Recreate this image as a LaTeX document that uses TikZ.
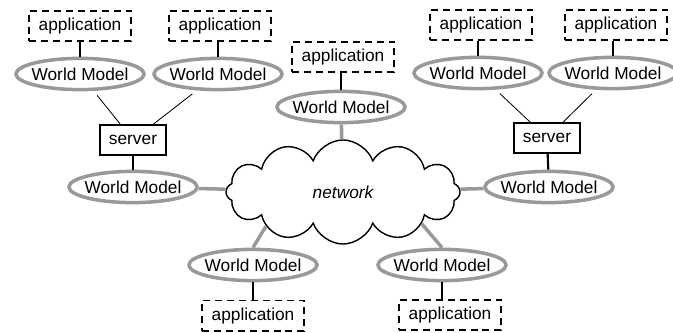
\documentclass[tikz,border=0pt]{standalone}
\usepackage{fontspec}
\setmainfont{Liberation Sans}
\usetikzlibrary{shapes,arrows,positioning,fit,backgrounds}
\colorlet{wmgray}{black!40}

\begin{document}
\begin{tikzpicture}[
    x=0.025cm, y=-0.025cm,
    node distance=1.2cm,
    font=\fontsize{12.3}{14}\selectfont,
    model node/.style={ellipse,draw=wmgray,line width=2.5pt,inner xsep=-0.1cm,minimum width=3.2cm,minimum height=0.78cm},
    app node/.style={rectangle,draw,line width=1.2pt,dash pattern=on 5pt off 3.5pt,minimum width=2.56cm,minimum height=0.76cm},
    server node/.style={rectangle,draw,line width=1.2pt,minimum width=1.64cm,minimum height=0.76cm},
    net node/.style={cloud,draw,line width=1pt,cloud puffs=12,cloud puff arc=140,cloud ignores aspect,minimum width=5.85cm,minimum height=2.6cm,font=\fontsize{12.3}{14}\selectfont\itshape},
    net link/.style={draw=wmgray,line width=2.5pt},
    app link/.style={line width=1.5pt},
    server link/.style={line width=0.6pt}
]
\useasboundingbox (0,0) rectangle (673,333);

% Network
\node[net node] (net) at (343,192) {network};

% World models
\node[model node] (w1) at (80,74) {World Model};
\node[model node] (w2) at (218,74) {World Model};
\node[model node] (w3) at (341,107) {World Model};
\node[model node] (w4) at (478,73) {World Model};
\node[model node] (w5) at (613,73) {World Model};
\node[model node] (w6) at (133,187) {World Model};
\node[model node] (w7) at (549,187) {World Model};
\node[model node] (w8) at (253,265) {World Model};
\node[model node] (w9) at (442,265) {World Model};

% Servers
\node[server node] (s1) at (133,140) {server};
\node[server node] (s2) at (547,138) {server};

% Applications
\node[app node, above of=w1] (a1) {application};
\node[app node, above of=w2, xshift=0.05cm] (a2) {application};
\node[app node, above of=w3, xshift=0.05cm, node distance=1.25cm] (a3) {application};
\node[app node, above of=w4, xshift=0.075cm] (a4) {application};
\node[app node, above of=w5, xshift=0.075cm] (a5) {application};
\node[app node, below of=w8, node distance=1.27cm] (a6) {application};
\node[app node, below of=w9, xshift=0.2cm, node distance=1.25cm] (a7) {application};

% Application links
\draw[app link] (w1) -- (w1 |- a1.south);
\draw[app link] (w2) -- (w2 |- a2.south);
\draw[app link] (w3) -- (w3 |- a3.south);
\draw[app link] (w4) -- (w4 |- a4.south);
\draw[app link] (w5) -- (w5 |- a5.south);
\draw[app link] (w8) -- (w8 |- a6.north);
\draw[app link] (w9) -- (w9 |- a7.north);

% Server links
\draw[server link, shorten <=4pt] (w1) -- (s1);
\draw[server link, shorten <=4pt] (w2) -- (s1);
\draw[server link, shorten <=4pt] (w4) -- (s2);
\draw[server link, shorten <=4pt] (w5) -- (s2);
\draw[app link] (s1) -- (w6);
\draw[app link] (s2) -- (w7);

% Network links
\draw[net link] (w3) -- (net);
\draw[net link] (w6) -- (net);
\draw[net link] (w7) -- (net);
\draw[net link] (w8.north) -- (net.204);
\draw[net link] (w9.north) -- (net.338);

\end{tikzpicture}
\end{document}
